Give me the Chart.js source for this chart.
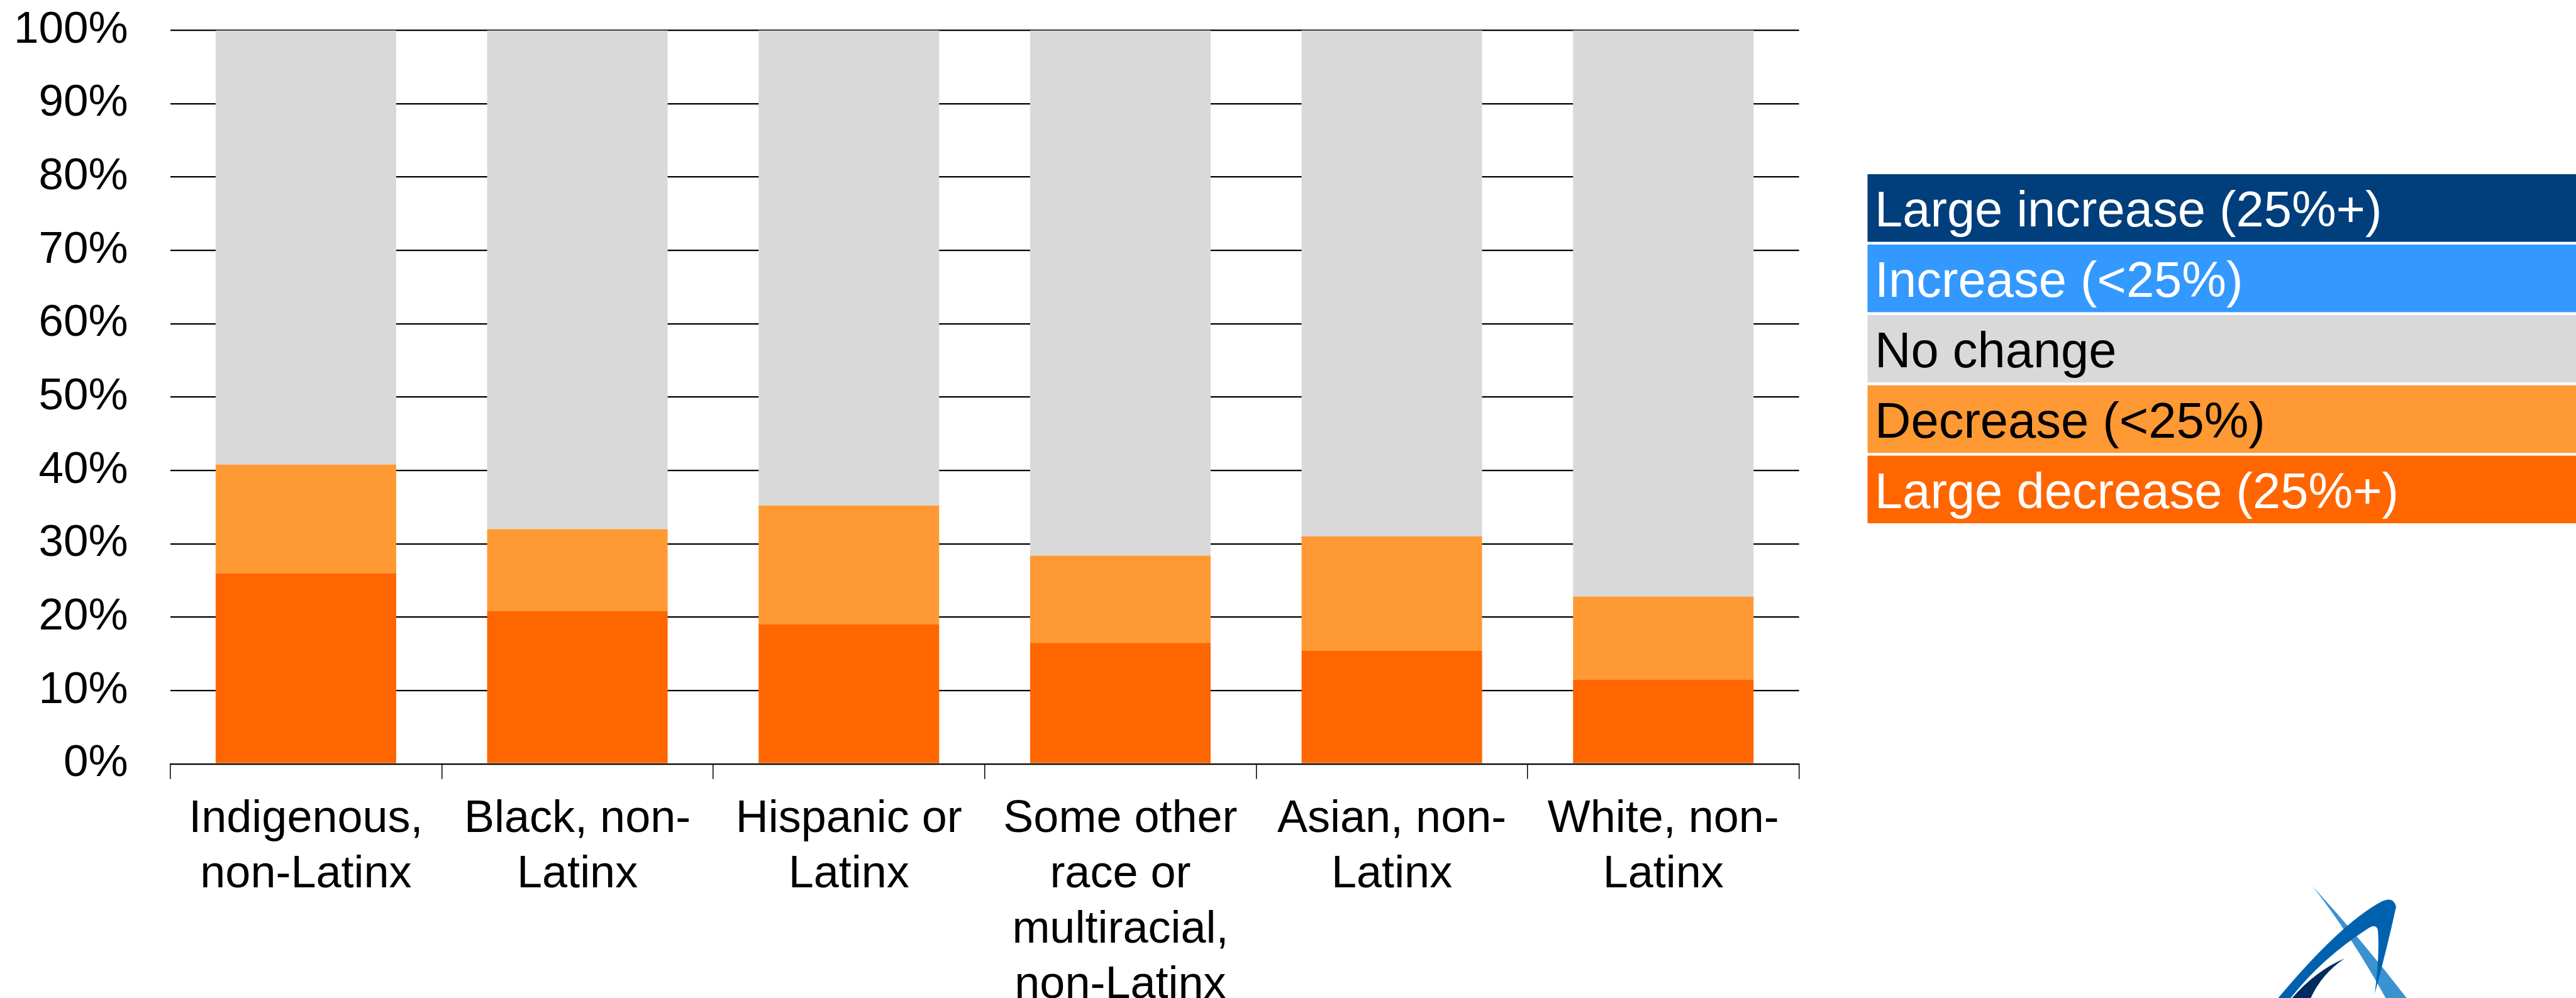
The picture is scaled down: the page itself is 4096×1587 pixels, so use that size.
<!DOCTYPE html>
<html>
<head>
<meta charset="utf-8">
<script src="https://cdn.jsdelivr.net/npm/chart.js@4.4.1/dist/chart.umd.min.js"></script>
<style>
  html, body { margin: 0; padding: 0; background: #fff; overflow: hidden; }
  canvas { display: block; }
</style>
</head>
<body>
<canvas id="chart" width="4096" height="1587"></canvas>
<script>
// Categories (multi-line axis labels)
const categories = [
  ["Indigenous,", "non-Latinx"],
  ["Black, non-", "Latinx"],
  ["Hispanic or", "Latinx"],
  ["Some other", "race or", "multiracial,", "non-Latinx"],
  ["Asian, non-", "Latinx"],
  ["White, non-", "Latinx"]
];

// Share of each group (percent), stacked bottom to top
const largeDecrease = [26.0, 20.8, 19.0, 16.5, 15.4, 11.5];
const decrease      = [14.8, 11.2, 16.2, 11.9, 15.6, 11.3];
const noChange      = [59.2, 68.0, 64.8, 71.6, 69.0, 77.2];
const increase      = [0, 0, 0, 0, 0, 0];
const largeIncrease = [0, 0, 0, 0, 0, 0];

const seriesNames  = ["Large decrease (25%+)", "Decrease (<25%)", "No change", "Increase (<25%)", "Large increase (25%+)"];
const seriesColors = ["#FF6600", "#FF9933", "#D9D9D9", "#3399FF", "#003E7C"];
const legendText   = ["#FFFFFF", "#000000", "#000000", "#FFFFFF", "#FFFFFF"];

// Y axis ticks
const yTickValues = [0, 10, 20, 30, 40, 50, 60, 70, 80, 90, 100];

const FONT = "'Liberation Sans', Arial, Helvetica, sans-serif";
Chart.defaults.font.family = FONT;
Chart.defaults.color = "#000";

// Legend drawn as full-width coloured rows with the label inside
const rowLegend = {
  id: "rowLegend",
  afterDraw(chart) {
    const ctx = chart.ctx;
    const left = 2969.5, right = 4096, top = 277, pitch = 111.9, rowH = 107.5;
    const sets = chart.data.datasets.slice().reverse();
    ctx.save();
    ctx.font = "79.5px " + FONT;
    ctx.textBaseline = "alphabetic";
    ctx.textAlign = "left";
    sets.forEach((ds, i) => {
      const y = top + i * pitch;
      ctx.fillStyle = ds.backgroundColor;
      ctx.fillRect(left, y, right - left, rowH);
      ctx.fillStyle = ds.legendTextColor;
      ctx.fillText(ds.label, 2981, y + 83);
    });
    ctx.restore();
  }
};

// Corner emblem
const emblem = {
  id: "emblem",
  afterDraw(chart) {
    const ctx = chart.ctx;
    ctx.save();
    // light blue blade
    ctx.fillStyle = "#3A93D0";
    ctx.beginPath();
    ctx.moveTo(3677, 1409);
    ctx.quadraticCurveTo(3760, 1500, 3829, 1590);
    ctx.lineTo(3795, 1590);
    ctx.quadraticCurveTo(3740, 1490, 3677, 1409);
    ctx.closePath();
    ctx.fill();
    // mid blue arch
    ctx.fillStyle = "#0062AF";
    ctx.beginPath();
    ctx.moveTo(3620, 1590);
    ctx.quadraticCurveTo(3720, 1470, 3786, 1434);
    ctx.quadraticCurveTo(3806, 1424, 3810, 1442);
    ctx.quadraticCurveTo(3795, 1510, 3776, 1580);
    ctx.quadraticCurveTo(3784, 1520, 3781, 1479);
    ctx.quadraticCurveTo(3778, 1468, 3766, 1476);
    ctx.quadraticCurveTo(3690, 1525, 3640, 1590);
    ctx.closePath();
    ctx.fill();
    // navy crescent
    ctx.fillStyle = "#002B5E";
    ctx.beginPath();
    ctx.moveTo(3728, 1524);
    ctx.quadraticCurveTo(3690, 1550, 3673, 1590);
    ctx.lineTo(3642, 1590);
    ctx.quadraticCurveTo(3680, 1545, 3728, 1524);
    ctx.closePath();
    ctx.fill();
    ctx.restore();
  }
};

const seriesData = [largeDecrease, decrease, noChange, increase, largeIncrease];

new Chart(document.getElementById("chart"), {
  type: "bar",
  data: {
    labels: categories,
    datasets: seriesData.map((d, i) => ({
      label: seriesNames[i],
      data: d,
      backgroundColor: seriesColors[i],
      legendTextColor: legendText[i],
      borderWidth: 0,
      barPercentage: 0.665,
      categoryPercentage: 1.0
    }))
  },
  options: {
    responsive: false,
    animation: false,
    layout: { padding: { top: 48.2, right: 4096 - 2860.6, bottom: 0, left: 0 } },
    plugins: { legend: { display: false }, tooltip: { enabled: false } },
    scales: {
      x: {
        stacked: true,
        offset: true,
        z: 1,
        grid: { display: true, drawOnChartArea: false, drawTicks: true, tickLength: 24, color: "#000", lineWidth: 1.5, offset: true },
        border: { display: true, color: "#000", width: 2 },
        ticks: { font: { size: 72, lineHeight: 1.222 }, color: "#000", padding: 20, maxRotation: 0, minRotation: 0, autoSkip: false },
        afterFit(scale) {
          scale.height = 1587 - 1214.7;
          scale.paddingLeft = 0; scale.paddingRight = 0;
        }
      },
      y: {
        stacked: true,
        min: 0,
        max: 100,
        afterBuildTicks(scale) { scale.ticks = yTickValues.map(v => ({ value: v })); },
        ticks: { callback: v => v + "%", font: { size: 71 }, color: "#000", padding: 67 },
        grid: { color: "#000", lineWidth: 2.2, drawTicks: false },
        border: { display: false },
        afterFit(scale) {
          scale.width = 270.6;
          scale.paddingTop = 0; scale.paddingBottom = 0;
        }
      }
    }
  },
  plugins: [rowLegend, emblem]
});
</script>
</body>
</html>
